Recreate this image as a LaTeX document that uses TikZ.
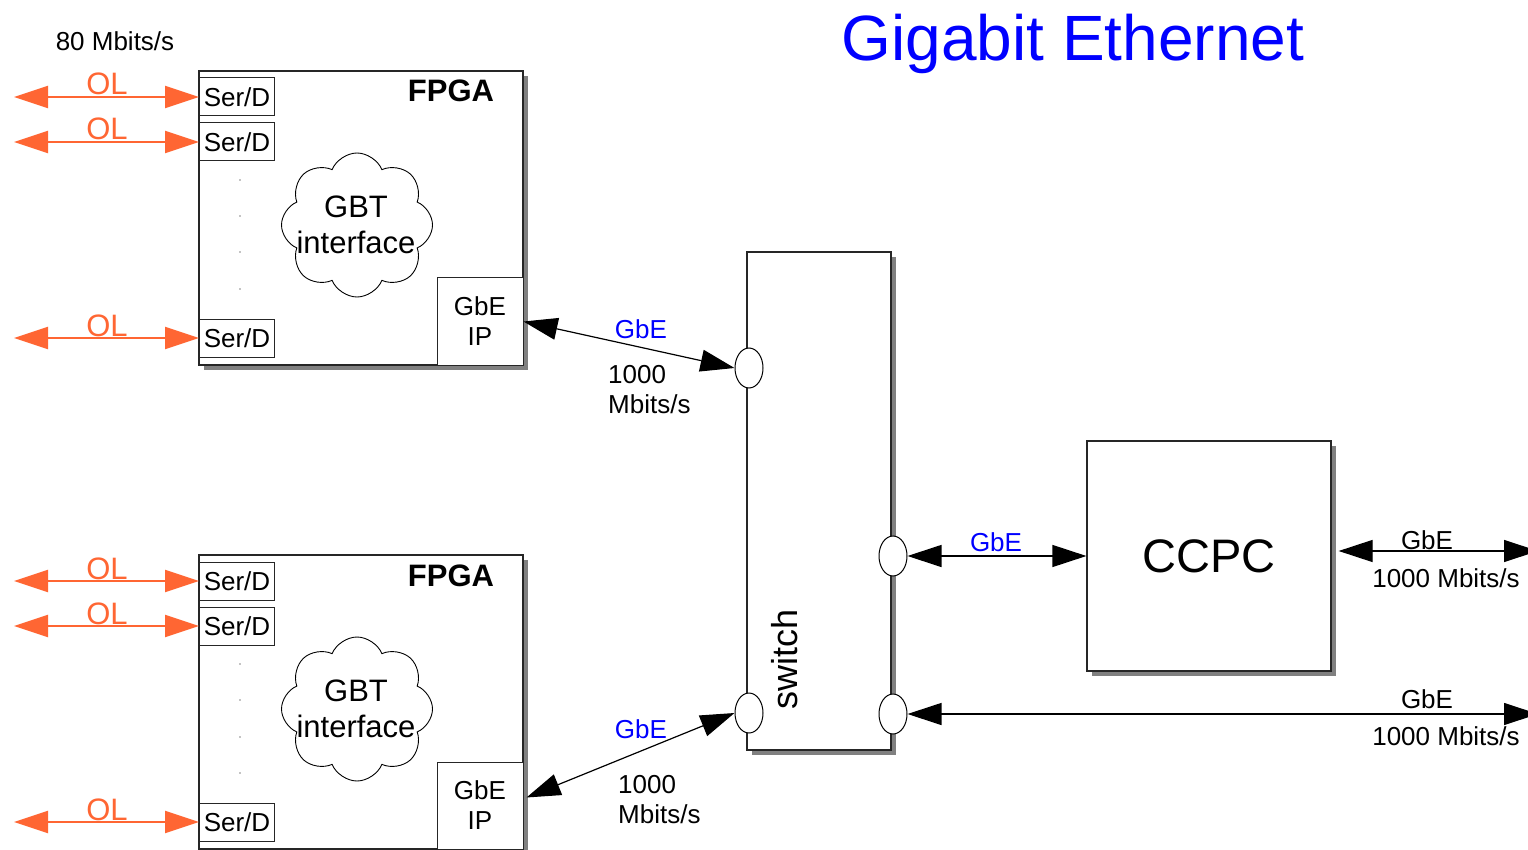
\documentclass[tikz,border=0pt]{standalone}
\usepackage{fontspec}
\setmainfont{Liberation Sans}
\usepackage{tikz}
\usetikzlibrary{arrows.meta,positioning,shapes.geometric,shapes.symbols,shadows}
\definecolor{olorange}{RGB}{255,102,51}
\definecolor{gbeblue}{RGB}{0,0,255}
\definecolor{boxshade}{RGB}{128,128,128}
\newcommand{\pxsize}[2]{\fontsize{#1pt}{#2pt}\selectfont}

\tikzset{
  chip/.style={draw=black!85,line width=1.2pt,fill=white,inner sep=0pt,
    drop shadow={shadow xshift=5pt,shadow yshift=-5pt,fill=boxshade,opacity=1}},
  serbox/.style={draw=black!85,line width=1pt,fill=white,inner sep=0pt,anchor=west,
    minimum width=75pt,minimum height=38pt,font=\pxsize{26}{30}},
  ipbox/.style={draw=black!85,line width=1pt,fill=white,inner sep=0pt,align=center,
    minimum width=86pt,minimum height=87pt,font=\pxsize{26}{30}},
  gbtcloud/.style={cloud,cloud puffs=8,cloud puff arc=135,cloud ignores aspect,
    draw=black,line width=0.9pt,minimum width=151pt,minimum height=144pt},
  swport/.style={ellipse,draw=black,fill=white,line width=1pt,inner sep=0pt,
    minimum width=28pt,minimum height=40pt},
  olarrow/.style={draw=olorange,line width=2pt,
    {Triangle[length=34pt,width=22pt]}-{Triangle[length=34pt,width=22pt]}},
  gbelink/.style={draw=black,line width=1.2pt,
    {Triangle[length=34pt,width=22pt]}-{Triangle[length=34pt,width=22pt]}},
  ollabel/.style={font=\pxsize{31}{34},text=olorange,anchor=base,inner sep=0pt},
  bluelabel/.style={font=\pxsize{26}{30},text=gbeblue,anchor=base,inner sep=0pt},
  ratelabel/.style={font=\pxsize{26}{30},anchor=base,inner sep=0pt}
}

\begin{document}
\begin{tikzpicture}[x=1pt,y=-1pt]
  \useasboundingbox (0,0) rectangle (1528,850);

  \node[font=\pxsize{64}{70},text=gbeblue,anchor=base] (title) at (1073,61) {Gigabit Ethernet};
  \node[ratelabel] (olrate) at (115,51) {80 Mbits/s};

  % upper FPGA
  \node[chip,minimum width=324pt,minimum height=294pt] (fpgaTop) at (361,218) {};
  \node[font=\pxsize{31}{34}\bfseries,anchor=base] (fpgaTopLab) at (451,102) {FPGA};
  \node[serbox] (serTop1) at (199,97) {Ser/D};
  \node[serbox] (serTop2) at (199,142) {Ser/D};
  \node[serbox] (serTop3) at (199,338) {Ser/D};
  \fill (240,180) circle (0.7pt) (240,216) circle (0.7pt) (240,252) circle (0.7pt) (240,289) circle (0.7pt);
  \node[gbtcloud] (gbtTop) at (357,225) {};
  \node[font=\pxsize{31}{36},align=center,inner sep=0pt] (gbtTopLab) at (356,225) {GBT\\interface};
  \node[ipbox] (ipTop) at (480,321.5) {GbE\\IP};

  % lower FPGA
  \node[chip,minimum width=324pt,minimum height=294pt] (fpgaBot) at (361,702) {};
  \node[font=\pxsize{31}{34}\bfseries,anchor=base] (fpgaBotLab) at (451,586) {FPGA};
  \node[serbox] (serBot1) at (199,581) {Ser/D};
  \node[serbox] (serBot2) at (199,626) {Ser/D};
  \node[serbox] (serBot3) at (199,822) {Ser/D};
  \fill (240,664) circle (0.7pt) (240,700) circle (0.7pt) (240,737) circle (0.7pt) (240,773) circle (0.7pt);
  \node[gbtcloud] (gbtBot) at (357,709) {};
  \node[font=\pxsize{31}{36},align=center,inner sep=0pt] (gbtBotLab) at (356,709) {GBT\\interface};
  \node[ipbox] (ipBot) at (480,805.5) {GbE\\IP};

  % optical links
  \coordinate (olTop1) at (14,97);
  \coordinate (olTop2) at (14,142);
  \coordinate (olTop3) at (14,338);
  \coordinate (olBot1) at (14,581);
  \coordinate (olBot2) at (14,626);
  \coordinate (olBot3) at (14,822);
  \draw[olarrow] (olTop1) -- (serTop1.west);
  \draw[olarrow] (olTop2) -- (serTop2.west);
  \draw[olarrow] (olTop3) -- (serTop3.west);
  \draw[olarrow] (olBot1) -- (serBot1.west);
  \draw[olarrow] (olBot2) -- (serBot2.west);
  \draw[olarrow] (olBot3) -- (serBot3.west);
  \node[ollabel] (olTop1Lab) at (107,95) {OL};
  \node[ollabel] (olTop2Lab) at (107,140) {OL};
  \node[ollabel] (olTop3Lab) at (107,336) {OL};
  \node[ollabel] (olBot1Lab) at (107,579) {OL};
  \node[ollabel] (olBot2Lab) at (107,624) {OL};
  \node[ollabel] (olBot3Lab) at (107,820) {OL};

  % switch
  \node[chip,minimum width=144pt,minimum height=498pt] (sw) at (819,501) {};
  \node[font=\pxsize{36}{40},rotate=90,anchor=base,inner sep=0pt] (swLab) at (797,659) {switch};
  \node[swport] (swInTop) at (749,368) {};
  \node[swport] (swInBot) at (749,713) {};
  \node[swport] (swOutCcpc) at (893,556) {};
  \node[swport] (swOutNet) at (893,714) {};

  % CCPC
  \node[chip,minimum width=244pt,minimum height=230pt,font=\pxsize{47}{52}] (ccpc) at (1209,556) {CCPC};

  % GbE links
  \coordinate (netTop) at (1538,551);
  \coordinate (netBot) at (1538,714);
  \draw[gbelink] (ipTop.east) -- (swInTop.west);
  \draw[gbelink] ([shift={(3,-8)}]ipBot.east) -- (swInBot.west);
  \draw[gbelink] (swOutCcpc.east) -- (ccpc.west);
  \draw[gbelink] ([shift={(7,-5)}]ccpc.east) -- (netTop);
  \draw[gbelink] (swOutNet.east) -- (netBot);

  \node[bluelabel] (gbeTopLab) at (641,338) {GbE};
  \node[font=\pxsize{26}{30},align=left,anchor=north west,inner sep=0pt] (rateTop) at (608,365) {1000\\Mbits/s};
  \node[bluelabel] (gbeBotLab) at (641,738) {GbE};
  \node[font=\pxsize{26}{30},align=left,anchor=north west,inner sep=0pt] (rateBot) at (618,775) {1000\\Mbits/s};
  \node[bluelabel] (gbeCcpcLab) at (996,551) {GbE};
  \node[ratelabel] (gbeNetTopLab) at (1427,549) {GbE};
  \node[ratelabel] (rateNetTop) at (1446,587) {1000 Mbits/s};
  \node[ratelabel] (gbeNetBotLab) at (1427,708) {GbE};
  \node[ratelabel] (rateNetBot) at (1446,745) {1000 Mbits/s};
\end{tikzpicture}
\end{document}
